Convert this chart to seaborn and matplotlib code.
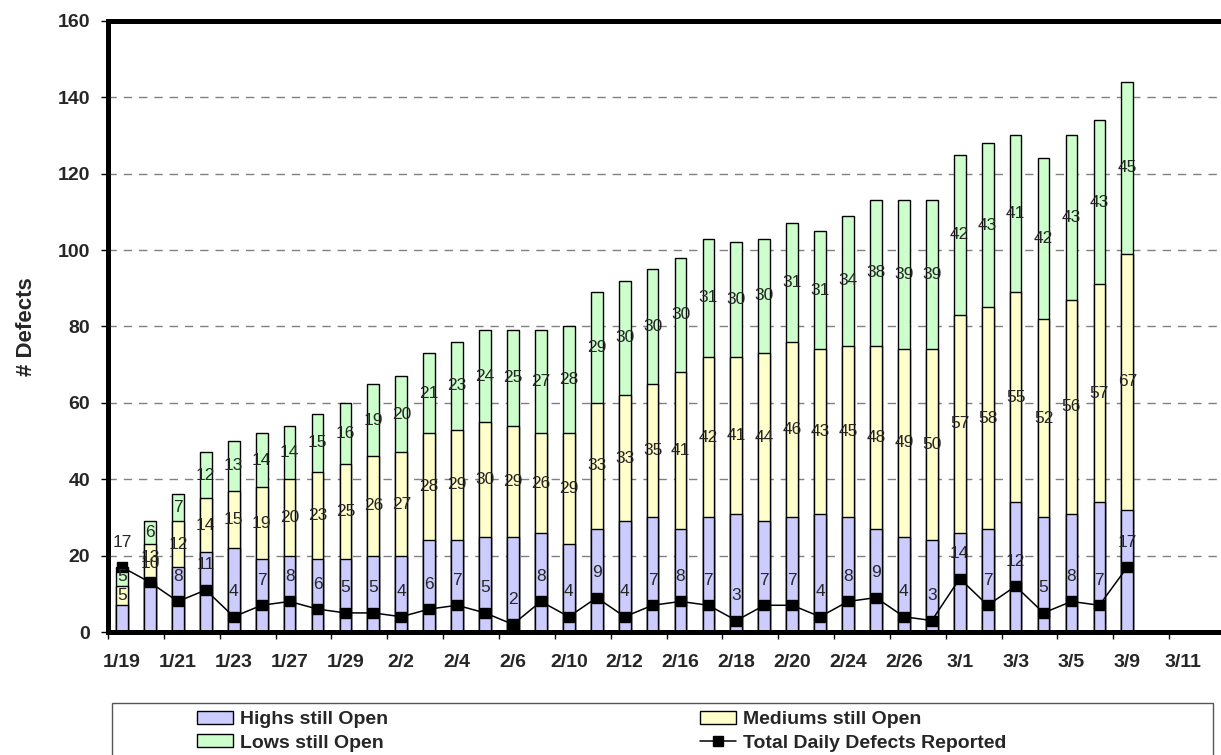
import matplotlib
matplotlib.use('Agg')
import matplotlib.pyplot as plt
from matplotlib.patches import Patch, Rectangle
from matplotlib.lines import Line2D
import seaborn as sns
import numpy as np
import pandas as pd

sns.set_theme(style='white')
plt.rcParams['font.family'] = ['Liberation Sans', 'DejaVu Sans']

# working days on the axis (last three have no data yet)
dates = ['1/19', '1/20', '1/21', '1/22', '1/23', '1/26', '1/27', '1/28', '1/29', '1/30',
         '2/2', '2/3', '2/4', '2/5', '2/6', '2/9', '2/10', '2/11', '2/12', '2/13',
         '2/16', '2/17', '2/18', '2/19', '2/20', '2/23', '2/24', '2/25', '2/26', '2/27',
         '3/1', '3/2', '3/3', '3/4', '3/5', '3/8', '3/9', '3/10', '3/11', '3/12']

highs = [7, 13, 17, 21, 22, 19, 20, 19, 19, 20, 20, 24, 24, 25, 25, 26, 23, 27, 29, 30,
         27, 30, 31, 29, 30, 31, 30, 27, 25, 24, 26, 27, 34, 30, 31, 34, 32]
mediums = [5, 10, 12, 14, 15, 19, 20, 23, 25, 26, 27, 28, 29, 30, 29, 26, 29, 33, 33, 35,
           41, 42, 41, 44, 46, 43, 45, 48, 49, 50, 57, 58, 55, 52, 56, 57, 67]
lows = [5, 6, 7, 12, 13, 14, 14, 15, 16, 19, 20, 21, 23, 24, 25, 27, 28, 29, 30, 30,
        30, 31, 30, 30, 31, 31, 34, 38, 39, 39, 42, 43, 41, 42, 43, 43, 45]
reported = [17, 13, 8, 11, 4, 7, 8, 6, 5, 5, 4, 6, 7, 5, 2, 8, 4, 9, 4, 7,
            8, 7, 3, 7, 7, 4, 8, 9, 4, 3, 14, 7, 12, 5, 8, 7, 17]

n = len(highs)
df = pd.DataFrame({'date': dates[:n], 'highs': highs, 'mediums': mediums,
                   'lows': lows, 'reported': reported})
df['hm'] = df.highs + df.mediums
df['total'] = df.hm + df.lows

fig = plt.figure(figsize=(12.21, 7.55), dpi=100)
ax = fig.add_axes([0.0885, 0.1629, 0.9148, 0.8095])

# stacked bars drawn back to front
for col, color in [('total', '#CCFFCC'), ('hm', '#FFFFCC'), ('highs', '#CCCCFF')]:
    sns.barplot(data=df, x='date', y=col, order=dates, color=color, saturation=1,
                width=0.42, edgecolor='black', linewidth=1.0, errorbar=None,
                ax=ax, zorder=2)

ax.plot(np.arange(n), df.reported, color='black', lw=1.1, marker='s', ms=7, zorder=4)

# data labels
for i, r in df.iterrows():
    ax.text(i, r.highs + r.mediums / 2, str(r.mediums), ha='center', va='center',
            fontsize=12.5, zorder=5)
    ax.text(i, r.hm + r.lows / 2, str(r.lows), ha='center', va='center',
            fontsize=12.5, zorder=5)
    ax.annotate(str(r.reported), (i, r.reported), xytext=(0, 18),
                textcoords='offset points', ha='center', va='center',
                fontsize=12.5, zorder=6)

ax.set_xlim(-0.5, 39.5)
ax.set_ylim(0, 160)
ax.set_yticks(range(0, 161, 20))
ax.set_xticks(np.arange(-0.5, 40, 2))
ax.set_xticklabels([])
ax.set_xticks(np.arange(0, 40, 2), minor=True)
ax.set_xticklabels(dates[::2], minor=True, fontsize=14, fontweight='bold')
for lab in ax.get_yticklabels():
    lab.set_fontweight('bold')
    lab.set_fontsize(14)

ax.tick_params(axis='x', which='major', bottom=True, length=5, width=1, color='black')
ax.tick_params(axis='x', which='minor', bottom=True, length=0, pad=16)
ax.tick_params(axis='y', left=True, length=5, width=1, color='black', pad=8)

ax.set_xlabel('')
ax.set_ylabel('# Defects', fontsize=16, fontweight='bold')
ax.yaxis.set_label_coords(-0.0636, 0.5)

ax.yaxis.grid(True, color='#808080', linestyle=(0, (6, 5)), linewidth=1.0)
ax.set_axisbelow(True)

for side in ['left', 'bottom', 'top']:
    ax.spines[side].set_linewidth(3.6)
    ax.spines[side].set_color('black')
ax.spines['right'].set_visible(False)

# legend: two single-column legends inside one box
h_patch = Patch(facecolor='#CCCCFF', edgecolor='black', lw=1)
m_patch = Patch(facecolor='#FFFFCC', edgecolor='black', lw=1)
l_patch = Patch(facecolor='#CCFFCC', edgecolor='black', lw=1)
t_line = Line2D([], [], color='black', lw=1.1, marker='s', ms=7)

leg_kw = dict(loc='upper left', frameon=False, borderpad=0, borderaxespad=0,
              handlelength=1.85, handleheight=0.64, handletextpad=0.36,
              labelspacing=0.3, prop={'weight': 'bold', 'size': 14})
fig.legend([h_patch, l_patch], ['Highs still Open', 'Lows still Open'],
           bbox_to_anchor=(0.1611, 0.058), **leg_kw)
fig.legend([m_patch, t_line], ['Mediums still Open', 'Total Daily Defects Reported'],
           bbox_to_anchor=(0.5733, 0.058), **leg_kw)

fig.add_artist(Rectangle((111.7 / 1221, -0.02), (1213 - 111.7) / 1221,
                         (755 - 702.7) / 755 + 0.02, transform=fig.transFigure,
                         fill=False, edgecolor='#555555', lw=1))

fig.savefig('out.png', dpi=100)
